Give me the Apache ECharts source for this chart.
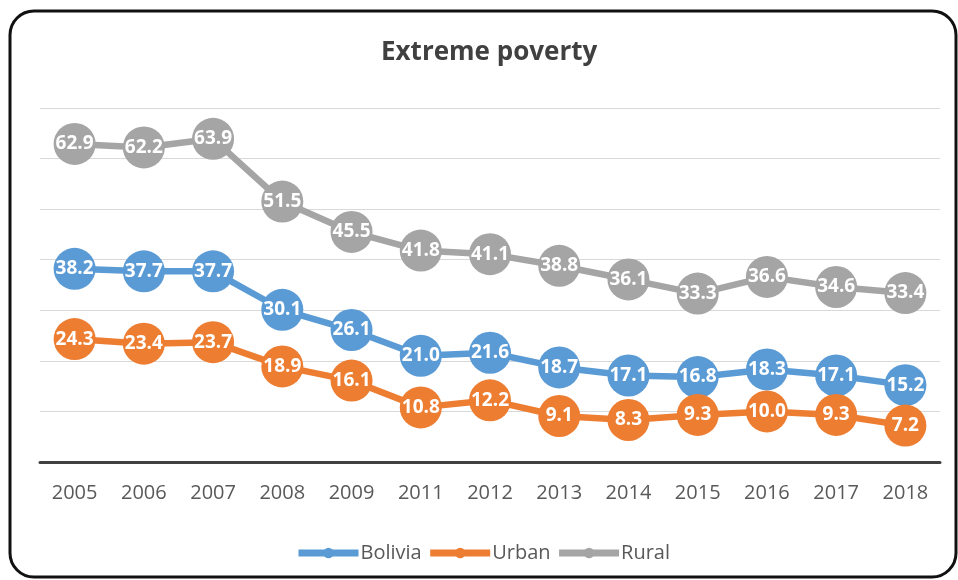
<!DOCTYPE html>
<html>
<head>
<meta charset="utf-8">
<script src="https://cdn.jsdelivr.net/npm/echarts@6/dist/echarts.min.js"></script>
<style>
  html, body { margin: 0; padding: 0; background: #ffffff; }
  #chart { width: 958px; height: 580px; }
</style>
</head>
<body>
<div id="chart"></div>
<script>
// Extreme poverty rates (%), by year
const years = ['2005', '2006', '2007', '2008', '2009', '2011', '2012', '2013', '2014', '2015', '2016', '2017', '2018'];
const bolivia = [38.2, 37.7, 37.7, 30.1, 26.1, 21.0, 21.6, 18.7, 17.1, 16.8, 18.3, 17.1, 15.2];
const urban = [24.3, 23.4, 23.7, 18.9, 16.1, 10.8, 12.2, 9.1, 8.3, 9.3, 10.0, 9.3, 7.2];
const rural = [62.9, 62.2, 63.9, 51.5, 45.5, 41.8, 41.1, 38.8, 36.1, 33.3, 36.6, 34.6, 33.4];

const FONT = '"Open Sans", "DejaVu Sans", sans-serif';

function makeSeries(name, data, color) {
  return {
    name: name,
    type: 'line',
    data: data,
    symbol: 'circle',
    symbolSize: 42,
    lineStyle: { width: 6.5, color: color },
    itemStyle: { color: color },
    label: {
      show: true,
      position: 'inside',
      color: '#ffffff',
      fontFamily: FONT,
      fontWeight: 'bold',
      fontSize: 19,
      formatter: function (p) { return p.value.toFixed(1); }
    },
    emphasis: { disabled: true },
    animation: false
  };
}

const chart = echarts.init(document.getElementById('chart'), null, { renderer: 'canvas' });
chart.setOption({
  backgroundColor: '#ffffff',
  title: {
    text: 'Extreme poverty',
    left: 376,
    top: 35,
    textStyle: { fontFamily: FONT, fontWeight: 'bold', fontSize: 26, color: '#404040' }
  },
  legend: {
    left: 290,
    top: 538,
    itemWidth: 60,
    itemHeight: 13,
    itemGap: 5,
    lineStyle: { width: 7 },
    textStyle: { fontFamily: FONT, fontSize: 20, color: '#595959', padding: [0, 0, 0, -3] },
    data: ['Bolivia', 'Urban', 'Rural']
  },
  grid: { left: 40, right: 18, top: 108, bottom: 118, containLabel: false },
  xAxis: {
    type: 'category',
    data: years,
    boundaryGap: true,
    axisLine: { lineStyle: { color: '#404040', width: 3 } },
    axisTick: { show: false },
    axisLabel: { fontFamily: FONT, fontSize: 20, color: '#595959', margin: 21 }
  },
  yAxis: {
    type: 'value',
    min: 0,
    max: 70,
    interval: 10,
    axisLabel: { show: false },
    axisLine: { show: false },
    axisTick: { show: false },
    splitLine: { lineStyle: { color: '#d9d9d9', width: 1 } }
  },
  series: [
    makeSeries('Bolivia', bolivia, '#5B9BD5'),
    makeSeries('Urban', urban, '#ED7D31'),
    makeSeries('Rural', rural, '#A5A5A5')
  ],
  graphic: [{
    type: 'rect',
    shape: { x: 10, y: 11, width: 946, height: 566, r: 24 },
    style: { fill: 'none', stroke: '#111111', lineWidth: 3 },
    silent: true,
    z: 100
  }]
});
</script>
</body>
</html>
